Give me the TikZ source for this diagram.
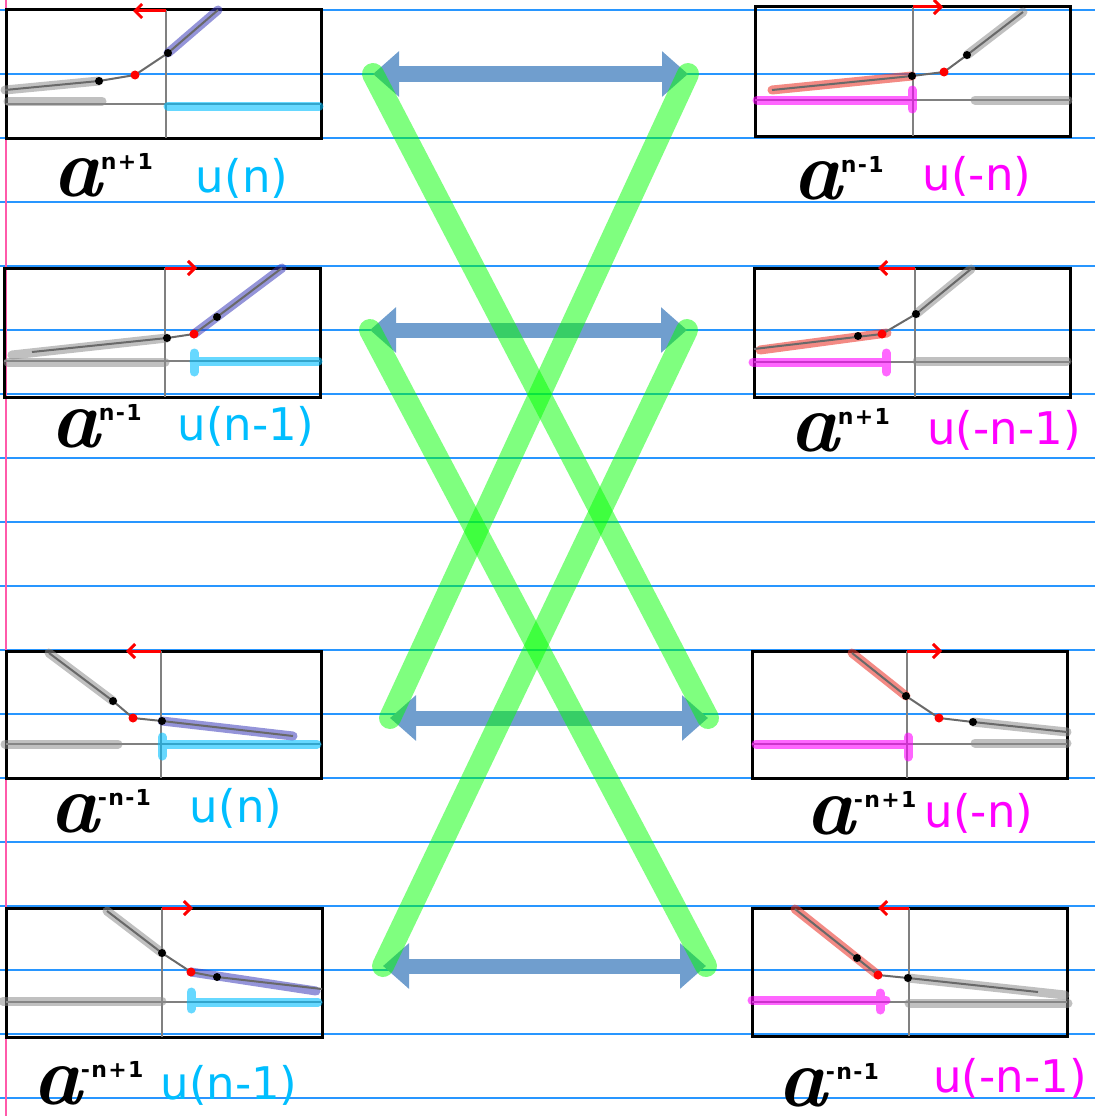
\documentclass[tikz,border=0pt]{standalone}
\usepackage{fontspec}
\setsansfont{DejaVu Sans}
\usetikzlibrary{arrows.meta}

\definecolor{ruleblue}{RGB}{40,150,255}
\definecolor{marginpink}{RGB}{255,90,170}
\definecolor{curvegray}{RGB}{105,105,105}
\definecolor{hlgray}{RGB}{140,140,140}
\definecolor{hlblue}{RGB}{60,60,185}
\definecolor{hlred}{RGB}{235,60,50}
\definecolor{ucyan}{RGB}{0,190,255}
\definecolor{umag}{RGB}{255,0,255}
\definecolor{arrblue}{RGB}{112,158,206}

\newcommand{\hw}[1]{{\fontsize{84}{84}\selectfont\bfseries\itshape a}\kern-1pt\raisebox{27pt}{\fontsize{22}{22}\selectfont\sffamily\bfseries\addfontfeatures{LetterSpace=6}#1}}

\tikzset{
  rule/.style={ruleblue, line width=1.2pt},
  margin/.style={marginpink, line width=1.5pt},
  panelbox/.style={black, line width=3pt},
  axis/.style={gray, line width=1.5pt},
  curve/.style={curvegray, line width=2pt},
  hgray/.style={hlgray, line width=9pt, opacity=.55, line cap=round},
  hblue/.style={hlblue, line width=9pt, opacity=.55, line cap=round},
  hred/.style={hlred, line width=9pt, opacity=.6, line cap=round},
  ucy/.style={ucyan, line width=9pt, opacity=.6, line cap=round},
  umg/.style={umag, line width=9pt, opacity=.6, line cap=round},
  shiftarr/.style={red, line width=3pt, -{Straight Barb[length=7pt,width=14pt]}},
  bothway/.style={arrblue, line width=15pt,
    {Triangle[length=26pt,width=44pt]}-{Triangle[length=26pt,width=44pt]}},
  cross/.style={green, opacity=.5, line width=22pt, line cap=round},
  hand/.style={anchor=base west, inner sep=0pt},
  ulab/.style={font=\sffamily\fontsize{45}{45}\selectfont, inner sep=0pt},
}

\begin{document}
\begin{tikzpicture}[x=1pt, y=-1pt]
  \useasboundingbox (0,0) rectangle (1095,1116);

  % notebook paper
  \foreach \y in {10,74,...,1098}
    \draw[rule] (0,\y) -- (1095,\y);
  \draw[margin] (6,0) -- (6,1116);

  % arrow ends
  \coordinate (L1) at (373,74);  \coordinate (R1) at (688,74);
  \coordinate (L2) at (370,330); \coordinate (R2) at (687,330);
  \coordinate (L3) at (390,718); \coordinate (R3) at (708,718);
  \coordinate (L4) at (383,966); \coordinate (R4) at (706,966);

  \draw[bothway] (L1) -- (R1);
  \draw[bothway] (L2) -- (R2);
  \draw[bothway] (L3) -- (R3);
  \draw[bothway] (L4) -- (R4);

  \draw[cross] (L1) -- (R3);
  \draw[cross] (R1) -- (L3);
  \draw[cross] (L2) -- (R4);
  \draw[cross] (R2) -- (L4);

  % a^{n+1} u(n)
  \draw[panelbox] (6,10) rectangle (321,138);
  \draw[axis] (6,104) -- (321,104) (166,10) -- (166,138);
  \draw[hgray] (8,101) -- (102,101);
  \draw[ucy] (168,106) -- (319,106);
  \draw[hgray] (5,90) -- (99,81);
  \draw[hblue] (168,53) -- (218,10);
  \draw[curve] (5,90) -- (99,81) -- (135,75) -- (168,53) -- (218,10);
  \fill (99,81) circle (4pt) (168,53) circle (4pt);
  \fill[red] (135,75) circle (4.5pt);
  \draw[shiftarr] (166,11) -- (133,11);
  \node[hand] (h1) at (52,196) {\hw{n+1}};
  \node[ulab, ucyan] (u1) at (242,178) {u(n)};

  % a^{n-1} u(-n)
  \draw[panelbox] (755,7) rectangle (1070,136);
  \draw[axis] (755,100) -- (1070,100) (913,7) -- (913,136);
  \draw[umg] (757,100) -- (911,100) (912,90) -- (912,109);
  \draw[hgray] (975,100) -- (1068,100);
  \draw[hred] (772,90) -- (912,76);
  \draw[hgray] (967,55) -- (1023,12);
  \draw[curve] (772,90) -- (912,76) -- (944,72) -- (967,55) -- (1023,12);
  \fill (912,76) circle (4pt) (967,55) circle (4pt);
  \fill[red] (944,72) circle (4.5pt);
  \draw[shiftarr] (913,7) -- (943,7);
  \node[hand] (h2) at (792,199) {\hw{n-1}};
  \node[ulab, umag] (u2) at (977,176) {u(-n)};

  % a^{n-1} u(n-1)
  \draw[panelbox] (4,268) rectangle (320,397);
  \draw[axis] (4,361) -- (320,361) (165,268) -- (165,397);
  \draw[hgray] (8,362) -- (165,362);
  \draw[ucy] (194,361) -- (318,361) (194,353) -- (194,372);
  \draw[hgray] (12,355) -- (167,338);
  \draw[hblue] (194,334) -- (282,268);
  \draw[curve] (32,352) -- (167,338) -- (194,334) -- (217,317) -- (282,268);
  \fill (167,338) circle (4pt) (217,317) circle (4pt);
  \fill[red] (194,334) circle (4.5pt);
  \draw[shiftarr] (165,268) -- (197,268);
  \node[hand] (h3) at (50,447) {\hw{n-1}};
  \node[ulab, ucyan] (u3) at (246,426) {u(n-1)};

  % a^{n+1} u(-n-1)
  \draw[panelbox] (754,268) rectangle (1070,397);
  \draw[axis] (754,362) -- (1070,362) (915,268) -- (915,397);
  \draw[umg] (753,362) -- (886,362) (886,353) -- (886,372);
  \draw[hgray] (917,361) -- (1067,361);
  \draw[hred] (760,350) -- (887,333);
  \draw[hgray] (916,314) -- (971,269);
  \draw[curve] (754,349) -- (882,334) -- (916,314) -- (971,269);
  \fill (858,336) circle (4pt) (916,314) circle (4pt);
  \fill[red] (882,334) circle (4.5pt);
  \draw[shiftarr] (915,268) -- (878,268);
  \node[hand] (h4) at (789,451) {\hw{n+1}};
  \node[ulab, umag] (u4) at (1004,430) {u(-n-1)};

  % a^{-n-1} u(n)
  \draw[panelbox] (6,651) rectangle (321,778);
  \draw[axis] (6,744) -- (321,744) (161,651) -- (161,778);
  \draw[hgray] (5,744) -- (118,744);
  \draw[ucy] (162,744) -- (317,744) (162,737) -- (162,756);
  \draw[hgray] (49,653) -- (113,701);
  \draw[hblue] (162,721) -- (293,736);
  \draw[curve] (49,653) -- (113,701) -- (133,718) -- (162,721) -- (293,736);
  \fill (113,701) circle (4pt) (162,721) circle (4pt);
  \fill[red] (133,718) circle (4.5pt);
  \draw[shiftarr] (161,651) -- (126,651);
  \node[hand] (h5) at (49,832) {\hw{-n-1}};
  \node[ulab, ucyan] (u5) at (236,808) {u(n)};

  % a^{-n+1} u(-n)
  \draw[panelbox] (752,651) rectangle (1067,778);
  \draw[axis] (752,744) -- (1067,744) (907,651) -- (907,778);
  \draw[umg] (756,744) -- (908,744) (908,737) -- (908,757);
  \draw[hgray] (975,743) -- (1067,743);
  \draw[hred] (852,653) -- (906,696);
  \draw[hgray] (973,722) -- (1067,732);
  \draw[curve] (852,653) -- (906,696) -- (939,718) -- (973,722) -- (1067,732);
  \fill (906,696) circle (4pt) (973,722) circle (4pt);
  \fill[red] (939,718) circle (4.5pt);
  \draw[shiftarr] (907,651) -- (942,651);
  \node[hand] (h6) at (805,834) {\hw{-n+1}};
  \node[ulab, umag] (u6) at (979,813) {u(-n)};

  % a^{-n+1} u(n-1)
  \draw[panelbox] (6,908) rectangle (322,1037);
  \draw[axis] (6,1002) -- (322,1002) (162,908) -- (162,1037);
  \draw[hgray] (3,1001) -- (162,1001);
  \draw[ucy] (191,1002) -- (318,1002) (191,992) -- (191,1009);
  \draw[hgray] (107,911) -- (162,953);
  \draw[hblue] (191,972) -- (316,991);
  \draw[curve] (107,911) -- (162,953) -- (191,972) -- (217,977) -- (322,989);
  \fill (162,953) circle (4pt) (217,977) circle (4pt);
  \fill[red] (191,972) circle (4.5pt);
  \draw[shiftarr] (162,908) -- (193,908);
  \node[hand] (h7) at (32,1104) {\hw{-n+1}};
  \node[ulab, ucyan] (u7) at (229,1085) {u(n-1)};

  % a^{-n-1} u(-n-1)
  \draw[panelbox] (752,908) rectangle (1067,1036);
  \draw[axis] (752,1002) -- (1067,1002) (909,908) -- (909,1036);
  \draw[umg] (752,1000) -- (886,1000) (880,993) -- (880,1010);
  \draw[hgray] (909,1003) -- (1068,1003);
  \draw[hred] (795,909) -- (878,975);
  \draw[hgray] (908,978) -- (1065,995);
  \draw[curve] (795,909) -- (878,975) -- (908,978) -- (1038,992);
  \fill (857,958) circle (4pt) (908,978) circle (4pt);
  \fill[red] (878,975) circle (4.5pt);
  \draw[shiftarr] (909,908) -- (878,908);
  \node[hand] (h8) at (777,1106) {\hw{-n-1}};
  \node[ulab, umag] (u8) at (1010,1078) {u(-n-1)};
\end{tikzpicture}
\end{document}
